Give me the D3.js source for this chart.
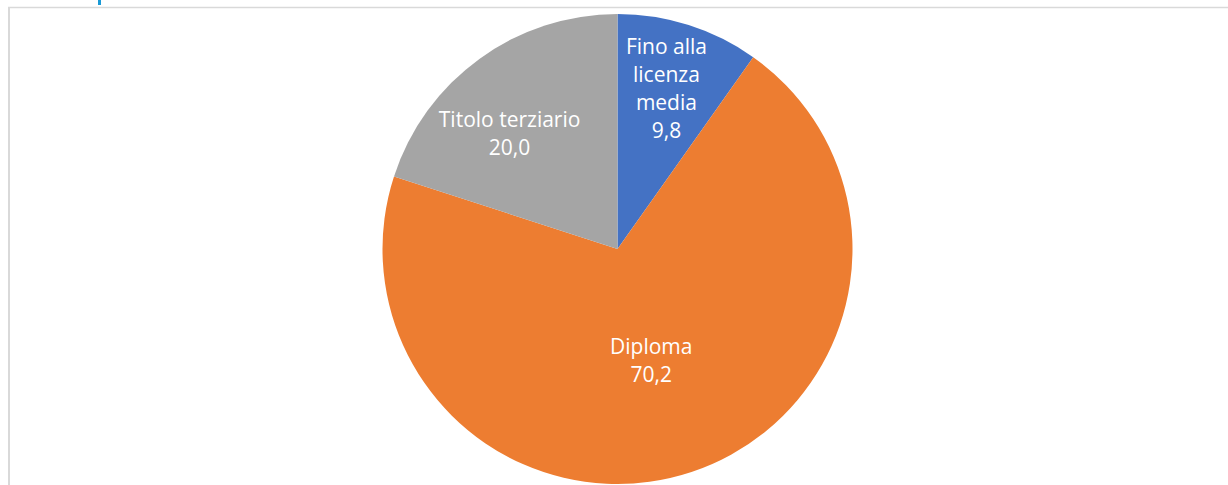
<!DOCTYPE html>
<html lang='it'>
<head>
  <meta charset='utf-8'>
  <title>Pie Chart</title>
  <script src='https://cdn.jsdelivr.net/npm/d3@7'></script>
  <style>
    body { margin: 0; background: #fff; }
  </style>
</head>
<body>
  <script>
    // data
    let categories = ["Fino alla licenza media", "Diploma", "Titolo terziario"];
    let values = [9.8, 70.2, 20.0];
    let labelLines = [["Fino alla", "licenza", "media"], ["Diploma"], ["Titolo terziario"]];

    let width = 1228, height = 485;
    let cx = 617.5, cy = 249, radius = 235;

    let svg = d3.select("body").append("svg")
      .attr("width", width)
      .attr("height", height);

    // frame lines
    svg.append("rect").attr("x", 98).attr("y", 0).attr("width", 3).attr("height", 5).attr("fill", "#1a9ad6");
    svg.append("line").attr("x1", 8).attr("x2", width).attr("y1", 7.5).attr("y2", 7.5)
      .attr("stroke", "#d9d9d9").attr("stroke-width", 1.5);
    svg.append("line").attr("x1", 9).attr("x2", 9).attr("y1", 7).attr("y2", height)
      .attr("stroke", "#d9d9d9").attr("stroke-width", 2);

    let container = svg.append("g")
      .attr("transform", `translate(${cx}, ${cy})`);

    let colorScale = d3.scaleOrdinal()
      .domain(categories)
      .range(["#4472c4", "#ed7d31", "#a5a5a5"]);

    let pie = d3.pie().sort(null).value(d => d.value);
    let data = categories.map((c, i) => ({ cat: c, value: values[i], lines: labelLines[i] }));

    let arc = d3.arc().innerRadius(0).outerRadius(radius);

    // label radius per slice (fraction of radius) plus small nudges
    let labelFrac = { "Fino alla licenza media": 0.715, "Diploma": 0.51, "Titolo terziario": 0.68 };
    let labelShift = { "Fino alla licenza media": [-2, 0], "Diploma": [-4, -2], "Titolo terziario": [-14, 14] };

    let parts = container.selectAll(".arc").data(pie(data)).join("g");
    parts.append("path")
      .attr("d", arc)
      .attr("fill", d => colorScale(d.data.cat));

    let lineH = 28;
    parts.each(function(d) {
      let r = radius * labelFrac[d.data.cat];
      let a = (d.startAngle + d.endAngle) / 2;
      let x = r * Math.sin(a) + labelShift[d.data.cat][0];
      let y = -r * Math.cos(a) + labelShift[d.data.cat][1];
      let lines = d.data.lines.concat([d3.format(".1f")(d.data.value).replace(".", ",")]);
      let y0 = y - (lines.length - 1) * lineH / 2;
      let t = d3.select(this).append("text")
        .attr("text-anchor", "middle")
        .attr("fill", "#fff")
        .style("font-family", "'Open Sans', sans-serif")
        .style("font-size", "21px");
      lines.forEach((l, i) => {
        t.append("tspan").attr("x", x).attr("y", y0 + i * lineH).attr("dy", "0.35em").text(l);
      });
    });
  </script>
</body>
</html>
